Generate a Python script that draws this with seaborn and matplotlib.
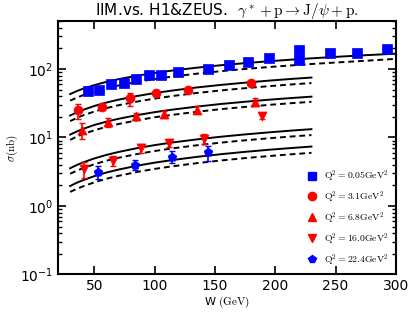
import seaborn as sns
import matplotlib.pyplot as plt
import matplotlib.ticker as mticker
from matplotlib.lines import Line2D
import pandas as pd

# data points (H1 & ZEUS)
w_q005 = [44.4, 54.2, 64.2, 74.4, 84.8, 95, 105, 119, 144.6, 161.7, 177.8, 195, 219.7, 219.7, 245, 268, 293]
s_q005 = [47, 48.6, 61, 63, 72, 80.6, 83, 91, 98.7, 116, 126, 145, 190, 134, 171, 173, 196]
e_q005 = [3, 3, 4, 4, 5, 5, 5, 6, 6, 7, 8, 9, 12, 9, 11, 11, 13]

w_q31 = [36.4, 56.4, 80, 100.8, 128, 180]
s_q31 = [24.8, 27.4, 37.1, 44, 49.3, 61.5]
e_q31 = [6.5, 2.5, 8, 4, 5, 6]

w_q68 = [39.4, 61.7, 84.8, 107.8, 135.3, 183.3]
s_q68 = [12.9, 16.7, 20.5, 21.9, 25.4, 33.2]
e_q68 = [3.5, 2.5, 2.5, 2.5, 3, 4]

w_q16 = [41.7, 65.3, 88.9, 111.9, 140.8, 189.2]
s_q16 = [3.43, 4.6, 6.97, 8.26, 9.64, 20.7]
e_q16 = [0.9, 0.8, 1.0, 1.0, 1.5, 2.0]

w_q224 = [53.1, 83.9, 114.2, 144.4]
s_q224 = [3.17, 4.0, 5.25, 6.1]
e_q224 = [0.7, 0.7, 1.0, 1.5]

# IIM model curves (solid / dashed)
w_curve = [30, 35, 40, 50, 60, 70, 85, 100, 115, 135, 155, 175, 195, 215, 230]
w_curve_long = w_curve + [250, 275, 300]
sol_q005 = [43, 47.1, 51, 58.1, 64.7, 70.9, 79.5, 87.5, 95, 104.4, 113.4, 121.7, 129.8, 137.4, 143, 150.2, 158.9, 167.3]
das_q005 = [34.4, 37.8, 41, 46.8, 52.2, 57.4, 64.5, 71.2, 77.5, 85.3, 92.9, 99.9, 106.8, 113.3, 118.1, 124.2, 131.7, 140.5]
sol_q31 = [20.9, 23.0, 25.0, 28.8, 32.3, 35.6, 40.1, 44.5, 48.5, 53.7, 58.5, 63.1, 67.6, 71.9, 74.9]
das_q31 = [17.3, 19.1, 20.8, 23.9, 26.8, 29.5, 33.3, 36.9, 40.3, 44.6, 48.6, 52.4, 56.1, 59.7, 62.2]
sol_q68 = [11, 12.1, 13.2, 15.2, 17.0, 18.7, 21.1, 23.4, 25.5, 28.2, 30.8, 33.2, 35.6, 37.8, 39.4]
das_q68 = [9.2, 10.2, 11.1, 12.7, 14.3, 15.7, 17.7, 19.7, 21.4, 23.7, 25.9, 27.9, 29.9, 31.8, 33.1]
sol_q16 = [3.55, 3.92, 4.27, 4.93, 5.55, 6.13, 6.95, 7.72, 8.45, 9.36, 10.24, 11.07, 11.87, 12.65, 13.2]
das_q16 = [2.95, 3.24, 3.52, 4.06, 4.57, 5.04, 5.7, 6.33, 6.93, 7.68, 8.4, 9.08, 9.73, 10.37, 10.82]
sol_q224 = [1.95, 2.16, 2.35, 2.72, 3.07, 3.39, 3.85, 4.28, 4.68, 5.2, 5.69, 6.16, 6.61, 7.04, 7.36]
das_q224 = [1.6, 1.76, 1.91, 2.21, 2.49, 2.75, 3.12, 3.47, 3.79, 4.21, 4.61, 4.99, 5.35, 5.7, 5.96]

plt.rcParams['font.family'] = ['DejaVu Sans']
plt.rcParams['mathtext.fontset'] = 'cm'
plt.rcParams['xtick.direction'] = 'in'
plt.rcParams['ytick.direction'] = 'in'
plt.rcParams['xtick.top'] = True
plt.rcParams['ytick.right'] = True
plt.rcParams['xtick.major.size'] = 6
plt.rcParams['ytick.major.size'] = 6
plt.rcParams['ytick.minor.size'] = 3
plt.rcParams['xtick.major.width'] = 1.2
plt.rcParams['ytick.major.width'] = 1.2
plt.rcParams['ytick.minor.width'] = 1.0
plt.rcParams['xtick.labelsize'] = 10
plt.rcParams['ytick.labelsize'] = 10
plt.rcParams['axes.linewidth'] = 1.5

rows = []
for name, w, sol, das in [('q005', w_curve_long, sol_q005, das_q005),
                          ('q31', w_curve, sol_q31, das_q31),
                          ('q68', w_curve, sol_q68, das_q68),
                          ('q16', w_curve, sol_q16, das_q16),
                          ('q224', w_curve, sol_q224, das_q224)]:
    for x, a, b in zip(w, sol, das):
        rows.append({'set': name, 'W': x, 'sigma': a, 'kind': 'solid'})
        rows.append({'set': name, 'W': x, 'sigma': b, 'kind': 'dashed'})
curves = pd.DataFrame(rows)

fig = plt.figure(figsize=(4.15, 3.15), dpi=100)
ax = fig.add_axes([0.14, 0.129, 0.814, 0.804])

# model curves
for name in curves['set'].unique():
    sub = curves[curves['set'] == name]
    sns.lineplot(data=sub, x='W', y='sigma', style='kind', dashes={'solid': '', 'dashed': (3, 2)},
                 color='k', lw=1.4, legend=False, ax=ax, estimator=None, sort=True)

# data with error bars
pts = [(w_q005, s_q005, e_q005, 's', 'blue', r'$\mathrm{Q^2=0.05GeV^2}$'),
       (w_q31, s_q31, e_q31, 'o', 'red', r'$\mathrm{Q^2=3.1GeV^2}$'),
       (w_q68, s_q68, e_q68, '^', 'red', r'$\mathrm{Q^2=6.8GeV^2}$'),
       (w_q16, s_q16, e_q16, 'v', 'red', r'$\mathrm{Q^2=16.0GeV^2}$'),
       (w_q224, s_q224, e_q224, 'p', 'blue', r'$\mathrm{Q^2=22.4GeV^2}$')]
handles = []
for w, s, e, m, c, lab in pts:
    ax.errorbar(w, s, yerr=e, fmt='none', ecolor=c, elinewidth=1.2, capsize=2.5, zorder=3)
    sns.scatterplot(x=w, y=s, marker=m, color=c, s=42, edgecolor=c, linewidth=0.5, ax=ax, zorder=4)
    handles.append(Line2D([], [], ls='', marker=m, color=c, ms=6, label=lab))

ax.set_yscale('log')
ax.set_xlim(20, 300)
ax.set_ylim(0.1, 500)
ax.set_xticks([50, 100, 150, 200, 250, 300])
ax.yaxis.set_minor_locator(mticker.LogLocator(base=10, subs=range(2, 10), numticks=20))
ax.yaxis.set_minor_formatter(mticker.NullFormatter())
ax.tick_params(which='both', direction='in', top=True, right=True)
ax.tick_params(which='major', length=6, width=1.2)
ax.tick_params(axis='y', which='minor', length=3, width=1.0)

ax.set_title(r'IIM.vs. H1&ZEUS.  $\gamma^* + \mathrm{p} \rightarrow \mathrm{J}/\psi + \mathrm{p}.$', fontsize=11, pad=3)
ax.set_xlabel(r'W $\mathrm{(GeV)}$', fontsize=8, labelpad=1)
ax.set_ylabel(r'$\sigma\mathrm{(nb)}$', fontsize=8, labelpad=0)

ax.legend(handles=handles, loc='lower right', frameon=False, fontsize=7, handletextpad=0.3,
          borderaxespad=0.3, labelspacing=0.55)

fig.savefig('out.png', dpi=100)
